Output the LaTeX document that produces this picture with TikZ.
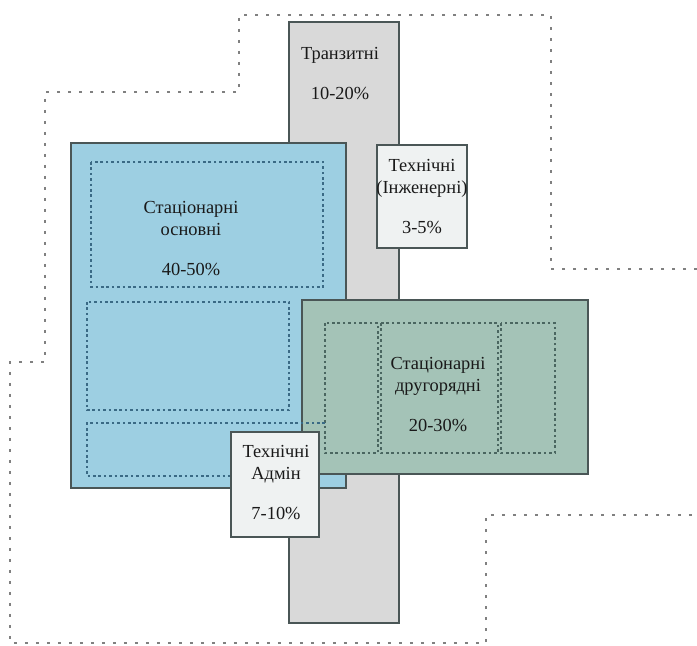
\documentclass[tikz,border=0pt]{standalone}
\usepackage{fontspec}
\setmainfont{Liberation Serif}
\definecolor{zoneblue}{HTML}{9DCFE2}
\definecolor{zonegreen}{HTML}{A4C3B7}
\definecolor{zonegray}{HTML}{D9D9D9}
\definecolor{zonelight}{HTML}{EFF2F2}
\definecolor{zoneline}{HTML}{4A5656}
\definecolor{bluedot}{HTML}{3A6A85}
\definecolor{greendot}{HTML}{4A6660}
\begin{document}
\begin{tikzpicture}[x=0.5pt,y=-0.5pt,
zone/.style={draw=zoneline,line width=0.7pt},
outer/.style={draw=black!50,line width=0.6pt,dash pattern=on 1.4pt off 4.1pt},
inner/.style={line width=0.6pt,dash pattern=on 1.3pt off 1.4pt},
lbl/.style={align=center,font=\fontsize{9.2}{11}\selectfont,text=black!90}]
\useasboundingbox (0,0) rectangle (697,646);
% outer boundary
\draw[outer] (697,269) -- (551,269) -- (551,15) -- (239,15) -- (239,92) -- (45,92) -- (45,362)
-- (10,362) -- (10,643) -- (486,643) -- (486,515) -- (697,515);
% transit
\draw[zone,fill=zonegray] (289,22) rectangle (399,623);
\node[lbl] (transit) at (340,74) {Транзитні\\[9pt]10-20\%};
% main stationary
\draw[zone,fill=zoneblue] (71,143) rectangle (346,488);
\draw[inner,draw=bluedot] (91,162) rectangle (323,287);
\draw[inner,draw=bluedot] (87,302) rectangle (289,410);
\node[lbl] (main) at (191,239) {Стаціонарні\\основні\\[9pt]40-50\%};
% engineering
\draw[zone,fill=zonelight] (377,145) rectangle (467,248);
\node[lbl] (eng) at (422,197) {Технічні\\(Інженерні)\\[9pt]3-5\%};
% secondary stationary
\draw[zone,fill=zonegreen] (302,300) rectangle (588,474);
\foreach \a/\b in {325/378,381/498,501/555}
  \draw[inner,draw=greendot] (\a,323) rectangle (\b,453);
\node[lbl] (second) at (438,395) {Стаціонарні\\другорядні\\[9pt]20-30\%};
\draw[inner,draw=bluedot] (325,423) -- (87,423) -- (87,476) -- (319,476);
% admin
\draw[zone,fill=zonelight] (231,432) rectangle (319,537);
\node[lbl] (admin) at (276,483) {Технічні\\Адмін\\[9pt]7-10\%};
\end{tikzpicture}
\end{document}
